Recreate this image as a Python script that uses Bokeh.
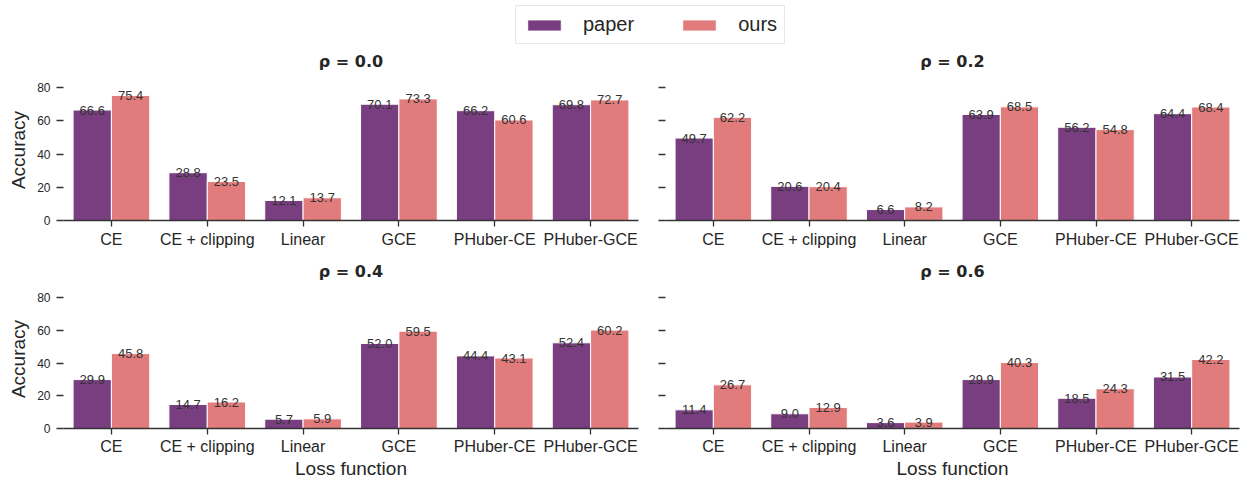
from bokeh.plotting import figure
from bokeh.models import ColumnDataSource, FactorRange, Range1d, FixedTicker, Legend, LegendItem
from bokeh.transform import dodge
from bokeh.layouts import column, row
from bokeh.embed import file_html
from bokeh.resources import INLINE

categories = ["CE", "CE + clipping", "Linear", "GCE", "PHuber-CE", "PHuber-GCE"]
series = ["paper", "ours"]
rhos = ["0.0", "0.2", "0.4", "0.6"]

paper_00 = [66.6, 28.8, 12.1, 70.1, 66.2, 69.8]
ours_00 = [75.4, 23.5, 13.7, 73.3, 60.6, 72.7]
paper_02 = [49.7, 20.6, 6.6, 63.9, 56.2, 64.4]
ours_02 = [62.2, 20.4, 8.2, 68.5, 54.8, 68.4]
paper_04 = [29.9, 14.7, 5.7, 52.0, 44.4, 52.4]
ours_04 = [45.8, 16.2, 5.9, 59.5, 43.1, 60.2]
paper_06 = [11.4, 9.0, 3.6, 29.9, 18.5, 31.5]
ours_06 = [26.7, 12.9, 3.9, 40.3, 24.3, 42.2]

y_ticks = [0, 20, 40, 60, 80]
Y_MAX = 85

PURPLE = "#783e80"
PINK = "#e27c7c"
TXT = "#262626"
FONT = "Liberation Sans"

panel_data = [(paper_00, ours_00), (paper_02, ours_02), (paper_04, ours_04), (paper_06, ours_06)]


def make_panel(idx, paper, ours):
    left = idx % 2 == 0
    bottom = idx >= 2
    if left:
        w = 645
        mbl, mbr = 63, 7
    else:
        w = 595
        mbl, mbr = 20, 1
    if bottom:
        h = 227
        mbt, mbb = 34, 51
    else:
        h = 210
        mbt, mbb = 33, 34
    p = figure(width=w, height=h, x_range=FactorRange(*categories, range_padding=0),
               y_range=Range1d(0, Y_MAX), output_backend="svg", toolbar_location=None,
               min_border_left=mbl, min_border_right=mbr, min_border_top=mbt, min_border_bottom=mbb)
    p.title.text = "\u03c1 = " + rhos[idx]
    p.title.align = "center"
    p.title.vertical_align = "top"
    p.title.standoff = 14
    p.title.text_font = "DejaVu Sans"
    p.title.text_font_size = "16px"
    p.title.text_font_style = "bold"
    p.title.text_color = TXT
    p.outline_line_color = None
    p.grid.visible = False
    p.background_fill_color = "white"

    src = ColumnDataSource(dict(cat=categories, paper=paper, ours=ours,
                                paper_lbl=["%.1f" % v for v in paper],
                                ours_lbl=["%.1f" % v for v in ours]))
    p.vbar(x=dodge("cat", -0.2, range=p.x_range), top="paper", width=0.4, source=src,
           fill_color=PURPLE, line_color="white", line_width=1)
    p.vbar(x=dodge("cat", 0.2, range=p.x_range), top="ours", width=0.4, source=src,
           fill_color=PINK, line_color="white", line_width=1)
    for key, off in (("paper_lbl", -0.2), ("ours_lbl", 0.2)):
        p.text(x=dodge("cat", off, range=p.x_range), y=key.split("_")[0], text=key, source=src,
               text_align="center", text_baseline="alphabetic", text_font_size="13px",
               text_color="#333333", text_font={"value": FONT})

    xa = p.xaxis[0]
    xa.axis_line_color = "#333333"
    xa.axis_line_width = 1.3
    xa.major_tick_line_color = "#333333"
    xa.major_tick_line_width = 1.3
    xa.major_tick_out = 6
    xa.major_tick_in = 0
    xa.minor_tick_line_color = None
    xa.major_label_text_font = FONT
    xa.major_label_text_font_size = "16px"
    xa.major_label_text_color = TXT
    xa.major_label_standoff = 4 if not bottom else 3
    if bottom:
        xa.axis_label = "Loss function"
        xa.axis_label_text_font = FONT
        xa.axis_label_text_font_size = "19px"
        xa.axis_label_text_font_style = "normal"
        xa.axis_label_text_color = TXT
        xa.axis_label_standoff = 0

    ya = p.yaxis[0]
    ya.ticker = FixedTicker(ticks=y_ticks)
    ya.axis_line_color = None
    ya.major_tick_line_color = "#333333"
    ya.major_tick_line_width = 1.3
    ya.major_tick_out = 7
    ya.major_tick_in = 0
    ya.minor_tick_line_color = None
    ya.major_label_text_font = FONT
    ya.major_label_text_font_size = "12px"
    ya.major_label_text_color = TXT
    ya.major_label_standoff = 6
    if left:
        ya.axis_label = "Accuracy"
        ya.axis_label_text_font = FONT
        ya.axis_label_text_font_size = "19px"
        ya.axis_label_text_font_style = "normal"
        ya.axis_label_text_color = TXT
        ya.axis_label_standoff = 5
    else:
        ya.major_label_overrides = {t: "" for t in y_ticks}
        ya.major_label_standoff = 0
    return p


panels = [make_panel(i, *panel_data[i]) for i in range(4)]

# legend strip
lg = figure(width=1240, height=44, output_backend="svg", toolbar_location=None,
            min_border=0, x_range=Range1d(0, 1), y_range=Range1d(0, 1))
lg.axis.visible = False
lg.grid.visible = False
lg.outline_line_color = None
dummy = ColumnDataSource(dict(x=[-10], top=[-10]))
r1 = lg.vbar(x="x", top="top", width=0.1, source=dummy, fill_color=PURPLE, line_color="white")
r2 = lg.vbar(x="x", top="top", width=0.1, source=dummy, fill_color=PINK, line_color="white")
leg = Legend(items=[LegendItem(label=series[0], renderers=[r1]), LegendItem(label=series[1], renderers=[r2])],
             orientation="horizontal", location=(515, 0), margin=0, padding=7,
             glyph_width=42, glyph_height=14, label_standoff=18, spacing=44,
             label_text_font=FONT, label_text_font_size="20px", label_text_color=TXT,
             label_height=20, border_line_color="#d0d0d0", border_line_width=1,
             background_fill_color="white", background_fill_alpha=1)
lg.add_layout(leg)

layout = column(lg, row(panels[0], panels[1]), row(panels[2], panels[3]))
open("out.html", "w").write(file_html(layout, INLINE))
